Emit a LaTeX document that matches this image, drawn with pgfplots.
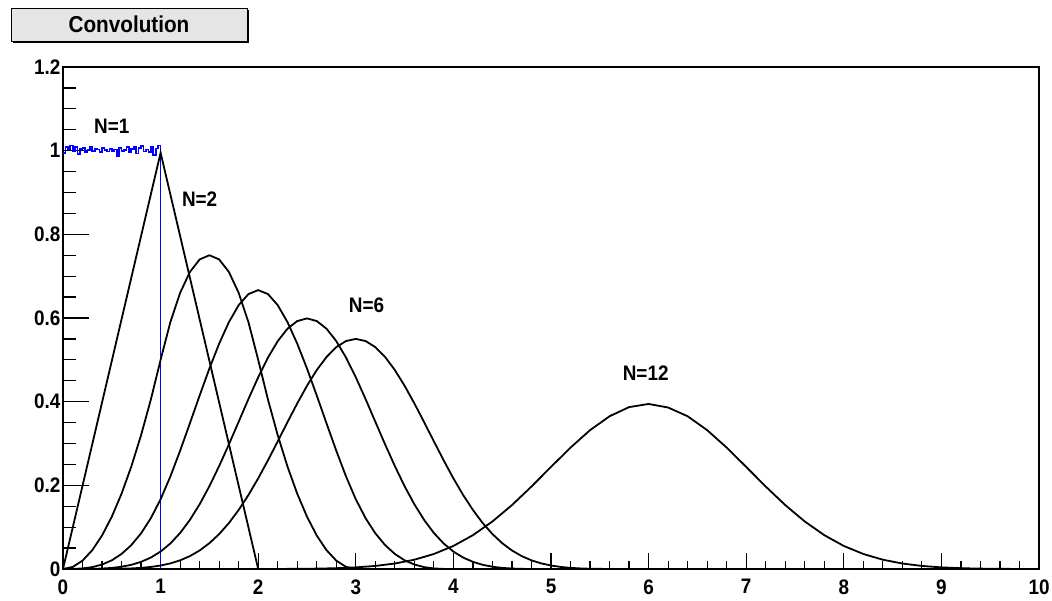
\documentclass[border=0pt]{standalone}
\usepackage{fontspec}
\setmainfont{Liberation Sans}
\newfontfamily\rootfont[FakeStretch=0.9]{Liberation Sans}
\usepackage{pgfplots}
\pgfplotsset{compat=1.18}
\definecolor{titlegray}{RGB}{229,229,229}

\begin{document}
\begin{tikzpicture}[x=1pt,y=1pt]
\useasboundingbox (0,0) rectangle (1052,600);
% title box
\fill[black] (13,557) rectangle (249,590);
\filldraw[fill=titlegray,draw=black,line width=0.8pt] (11,559) rectangle (247,592);
\node[font=\rootfont\bfseries\fontsize{23}{23}\selectfont] at (129,575.5) {Convolution};

\begin{axis}[
    at={(63pt,31pt)}, anchor=south west,
    scale only axis,
    width=976pt, height=502pt,
    xmin=0, xmax=10, ymin=0, ymax=1.2,
    xtick={0,1,...,10},
    ytick={0,0.2,...,1.2},
    minor x tick num=4,
    minor y tick num=3,
    tick pos=left,
    tick align=inside,
    axis line style={line width=1.6pt},
    every tick/.style={black,line width=1.2pt},
    xtick style={/pgfplots/major tick length=16pt,/pgfplots/minor tick length=8pt},
    ytick style={/pgfplots/major tick length=26pt,/pgfplots/minor tick length=13pt},
    /pgf/number format/assume math mode=true,
    ticklabel style={font=\rootfont\bfseries\fontsize{21}{21}\selectfont},
    yticklabel style={xshift=1pt},
    xticklabel style={yshift=-7pt},
    clip=false,
  ]
  % N=1 (blue histogram, bins of 0.025)
  \addplot[blue, line width=1.7pt, const plot mark left] coordinates {
    (0.000,0.995) (0.025,1.008) (0.050,1.003) (0.075,1.012) (0.100,0.998)
    (0.125,1.009) (0.150,0.992) (0.175,1.004) (0.200,1.006) (0.225,0.997)
    (0.250,1.001) (0.275,1.010) (0.300,0.999) (0.325,1.005) (0.350,1.003)
    (0.375,0.996) (0.400,1.007) (0.425,1.002) (0.450,0.998) (0.475,1.004)
    (0.500,1.000) (0.525,1.003) (0.550,0.988) (0.575,1.006) (0.600,0.999)
    (0.625,1.002) (0.650,1.008) (0.675,0.996) (0.700,1.004) (0.725,1.009)
    (0.750,0.993) (0.775,1.006) (0.800,1.011) (0.825,0.998) (0.850,1.003)
    (0.875,0.997) (0.900,1.010) (0.925,0.990) (0.950,1.005) (0.975,1.012)
    (1.000,0.000) (10,0)
  };
  % N=2
  \addplot[black, line width=1.8pt] coordinates {
    (0,0) (1,0.995) (2,0) (10,0)
  };
  % N=3
  \addplot[black, line width=1.8pt] coordinates {
    (0,0) (0.1,0.005) (0.2,0.02) (0.3,0.045) (0.4,0.08) (0.5,0.125) (0.6,0.18)
    (0.7,0.245) (0.8,0.32) (0.9,0.405) (1,0.5) (1.1,0.59) (1.2,0.66) (1.3,0.71)
    (1.4,0.74) (1.5,0.75) (1.6,0.74) (1.7,0.71) (1.8,0.66) (1.9,0.59) (2,0.5)
    (2.1,0.405) (2.2,0.32) (2.3,0.245) (2.4,0.18) (2.5,0.125) (2.6,0.08)
    (2.7,0.045) (2.8,0.02) (2.9,0.005) (3,0) (10,0)
  };
  % N=4
  \addplot[black, line width=1.8pt] coordinates {
    (0,0) (0.1,0.0002) (0.2,0.0013) (0.3,0.0045) (0.4,0.0107) (0.5,0.0208)
    (0.6,0.036) (0.7,0.0572) (0.8,0.0853) (0.9,0.1215) (1,0.1667) (1.1,0.2212)
    (1.2,0.2827) (1.3,0.3482) (1.4,0.4147) (1.5,0.4792) (1.6,0.5387) (1.7,0.5902)
    (1.8,0.6307) (1.9,0.6572) (2,0.6667) (2.1,0.6572) (2.2,0.6307) (2.3,0.5902)
    (2.4,0.5387) (2.5,0.4792) (2.6,0.4147) (2.7,0.3482) (2.8,0.2827) (2.9,0.2212)
    (3,0.1667) (3.1,0.1215) (3.2,0.0853) (3.3,0.0572) (3.4,0.036) (3.5,0.0208)
    (3.6,0.0107) (3.7,0.0045) (3.8,0.0013) (3.9,0.0002) (4,0) (10,0)
  };
  % N=5
  \addplot[black, line width=1.8pt] coordinates {
    (0,0) (0.1,0) (0.2,0.0001) (0.3,0.0003) (0.4,0.0011) (0.5,0.0026) (0.6,0.0054)
    (0.7,0.0100) (0.8,0.0171) (0.9,0.0273) (1.0,0.0417) (1.1,0.0610) (1.2,0.0861)
    (1.3,0.1173) (1.4,0.1547) (1.5,0.1979) (1.6,0.2461) (1.7,0.2980) (1.8,0.3521)
    (1.9,0.4063) (2.0,0.4583) (2.1,0.5054) (2.2,0.5447) (2.3,0.5744) (2.4,0.5927)
    (2.5,0.5990) (2.6,0.5927) (2.7,0.5744) (2.8,0.5447) (2.9,0.5054) (3.0,0.4583)
    (3.1,0.4063) (3.2,0.3521) (3.3,0.2980) (3.4,0.2461) (3.5,0.1979) (3.6,0.1547)
    (3.7,0.1173) (3.8,0.0861) (3.9,0.0610) (4.0,0.0417) (4.1,0.0273) (4.2,0.0171)
    (4.3,0.0100) (4.4,0.0054) (4.5,0.0026) (4.6,0.0011) (4.7,0.0003) (4.8,0.0001)
    (4.9,0) (5,0) (10,0)
  };
  % N=6
  \addplot[black, line width=1.8pt] coordinates {
    (0,0) (0.3,0) (0.4,0.0001) (0.5,0.0003) (0.6,0.0006) (0.7,0.0014) (0.8,0.0027)
    (0.9,0.0049) (1.0,0.0083) (1.1,0.0134) (1.2,0.0207) (1.3,0.0308) (1.4,0.0443)
    (1.5,0.0617) (1.6,0.0835) (1.7,0.1099) (1.8,0.1411) (1.9,0.1768) (2.0,0.2167)
    (2.1,0.2598) (2.2,0.3051) (2.3,0.3510) (2.4,0.3959) (2.5,0.4380) (2.6,0.4756)
    (2.7,0.5068) (2.8,0.5304) (2.9,0.5450) (3.0,0.5500) (3.1,0.5450) (3.2,0.5304)
    (3.3,0.5068) (3.4,0.4756) (3.5,0.4380) (3.6,0.3959) (3.7,0.3510) (3.8,0.3051)
    (3.9,0.2598) (4.0,0.2167) (4.1,0.1768) (4.2,0.1411) (4.3,0.1099) (4.4,0.0835)
    (4.5,0.0617) (4.6,0.0443) (4.7,0.0308) (4.8,0.0207) (4.9,0.0134) (5.0,0.0083)
    (5.1,0.0049) (5.2,0.0027) (5.3,0.0014) (5.4,0.0006) (5.5,0.0003) (5.6,0.0001)
    (5.7,0) (10,0)
  };
  % N=12
  \addplot[black, line width=1.8pt] coordinates {
    (0,0) (2.0,0) (2.2,0.0001) (2.4,0.0004) (2.6,0.0009) (2.8,0.0019) (3.0,0.0039)
    (3.2,0.0073) (3.4,0.0131) (3.6,0.0222) (3.8,0.0359) (4.0,0.0551) (4.2,0.0809)
    (4.4,0.1136) (4.6,0.1528) (4.8,0.1971) (5.0,0.2440) (5.2,0.2902) (5.4,0.3319)
    (5.6,0.3651) (5.8,0.3870) (6.0,0.3945) (6.2,0.3860) (6.4,0.3651) (6.6,0.3319)
    (6.8,0.2902) (7.0,0.2440) (7.2,0.1971) (7.4,0.1528) (7.6,0.1136) (7.8,0.0809)
    (8.0,0.0551) (8.2,0.0359) (8.4,0.0222) (8.6,0.0131) (8.8,0.0073) (9.0,0.0039)
    (9.2,0.0019) (9.4,0.0009) (9.6,0.0004) (9.8,0.0001) (10,0)
  };
  \node[font=\rootfont\bfseries\fontsize{21}{21}\selectfont] at (axis cs:0.50,1.059) {N=1};
  \node[font=\rootfont\bfseries\fontsize{21}{21}\selectfont] at (axis cs:1.40,0.885) {N=2};
  \node[font=\rootfont\bfseries\fontsize{21}{21}\selectfont] at (axis cs:3.11,0.631) {N=6};
  \node[font=\rootfont\bfseries\fontsize{21}{21}\selectfont] at (axis cs:5.97,0.469) {N=12};
\end{axis}
\end{tikzpicture}
\end{document}
